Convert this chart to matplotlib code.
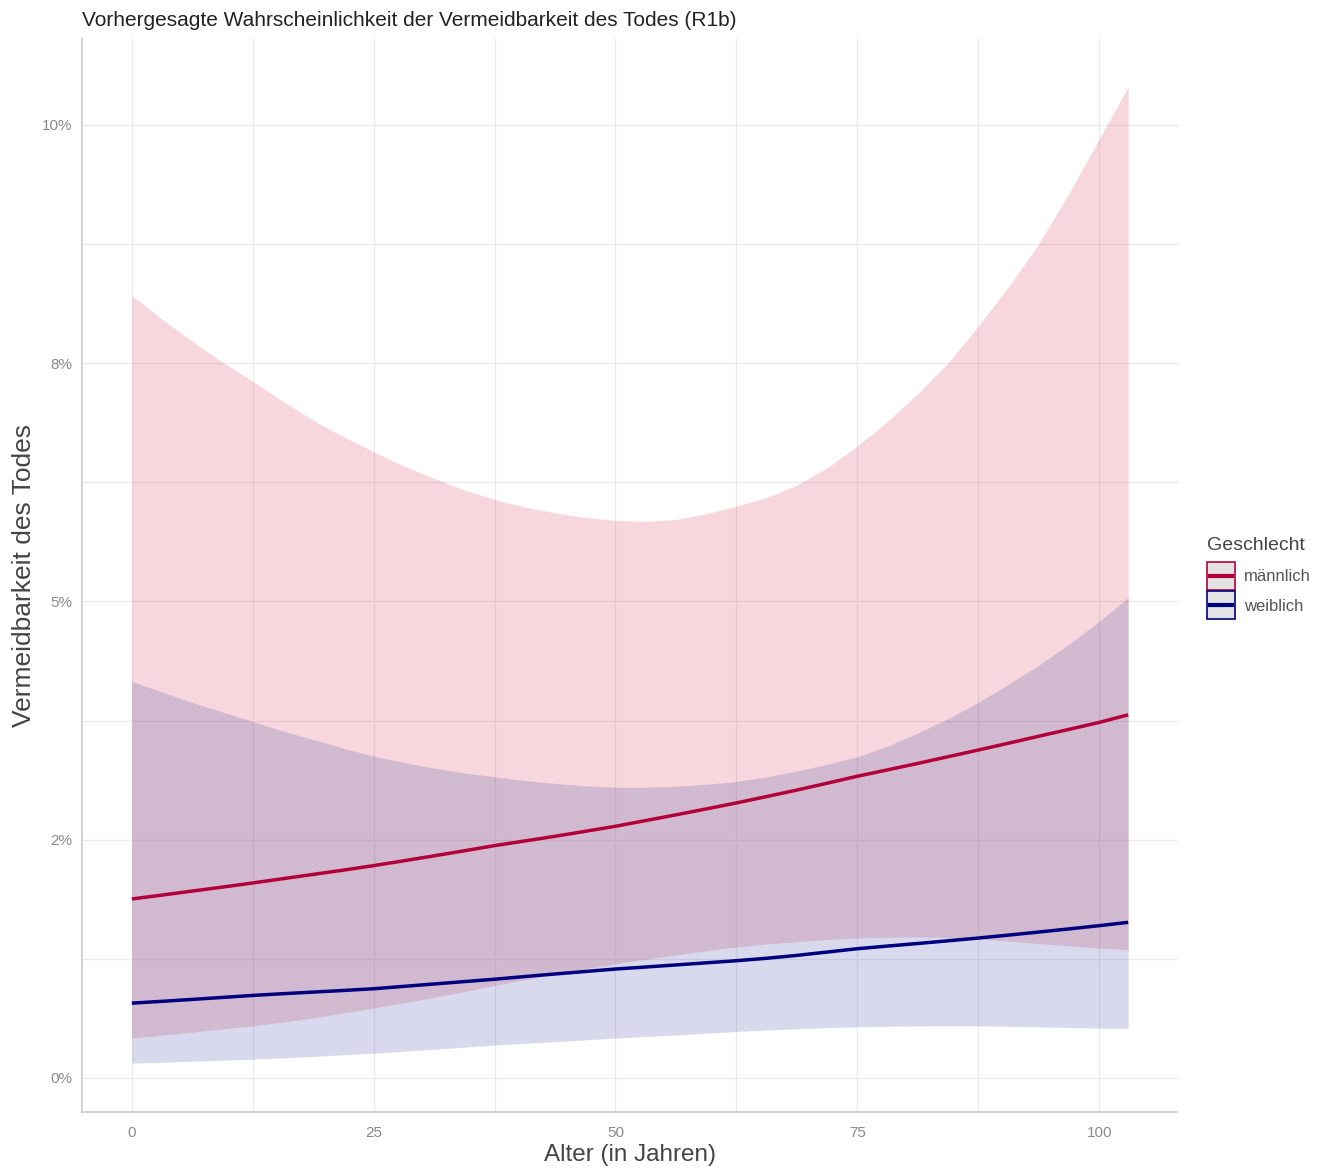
import numpy as np
import matplotlib
matplotlib.use("Agg")
import matplotlib.pyplot as plt
from matplotlib.patches import Rectangle
from matplotlib.lines import Line2D

plt.rcParams['font.family'] = ['Liberation Sans', 'DejaVu Sans']

# values (percent)
alter = [0, 3.125, 6.25, 9.375, 12.5, 15.625, 18.75, 21.875, 25, 28.125,
         31.25, 34.375, 37.5, 40.625, 43.75, 46.875, 50, 53.125, 56.25, 59.375,
         62.5, 65.625, 68.75, 71.875, 75, 78.125, 81.25, 84.375, 87.5, 90.625,
         93.75, 96.875, 100, 103]

m_fit = [1.877, 1.918, 1.96, 2.002, 2.045, 2.09, 2.135, 2.18, 2.227, 2.278,
         2.33, 2.383, 2.437, 2.486, 2.535, 2.587, 2.64, 2.70, 2.76, 2.822,
         2.885, 2.952, 3.02, 3.092, 3.165, 3.232, 3.30, 3.37, 3.44, 3.512,
         3.585, 3.657, 3.73, 3.81]
m_lo = [0.417, 0.448, 0.48, 0.512, 0.546, 0.585, 0.63, 0.68, 0.732, 0.788,
        0.845, 0.905, 0.97, 1.03, 1.09, 1.145, 1.197, 1.245, 1.29, 1.335,
        1.373, 1.405, 1.43, 1.452, 1.467, 1.476, 1.48, 1.473, 1.457, 1.435,
        1.41, 1.385, 1.362, 1.345]
m_hi = [8.21, 7.96, 7.73, 7.51, 7.31, 7.10, 6.90, 6.73, 6.57, 6.42,
        6.29, 6.17, 6.07, 5.99, 5.93, 5.88, 5.85, 5.84, 5.86, 5.92,
        6.00, 6.09, 6.22, 6.40, 6.63, 6.89, 7.18, 7.50, 7.89, 8.30,
        8.75, 9.28, 9.85, 10.40]

w_fit = [0.784, 0.803, 0.823, 0.844, 0.865, 0.883, 0.90, 0.917, 0.935, 0.96,
         0.985, 1.01, 1.035, 1.063, 1.09, 1.116, 1.142, 1.163, 1.185, 1.207,
         1.229, 1.255, 1.285, 1.32, 1.355, 1.383, 1.41, 1.438, 1.467, 1.498,
         1.53, 1.563, 1.597, 1.632]
w_lo = [0.154, 0.164, 0.175, 0.185, 0.196, 0.21, 0.225, 0.242, 0.259, 0.279,
        0.30, 0.322, 0.345, 0.363, 0.38, 0.399, 0.417, 0.434, 0.45, 0.469,
        0.487, 0.502, 0.515, 0.527, 0.536, 0.541, 0.545, 0.546, 0.546, 0.541,
        0.535, 0.528, 0.522, 0.522]
w_hi = [4.16, 4.05, 3.94, 3.84, 3.74, 3.64, 3.55, 3.46, 3.375, 3.31,
        3.25, 3.20, 3.16, 3.12, 3.09, 3.065, 3.05, 3.05, 3.06, 3.08,
        3.11, 3.16, 3.22, 3.29, 3.37, 3.48, 3.62, 3.77, 3.94, 4.13,
        4.33, 4.55, 4.79, 5.04]

gruppen = ["männlich", "weiblich"]
line_cols = ["#b3003a", "#00007f"]
fill_cols = ["#d73755", "#3c41a0"]

y_ticks = [0, 2.5, 5, 7.5, 10]
y_labels = ["0%", "2%", "5%", "8%", "10%"]
x_ticks = [0, 25, 50, 75, 100]


# ggplot-like legend key: grey box with coloured border and a line inside
class KeyHandler:
    def legend_artist(self, legend, orig_handle, fontsize, handlebox):
        x0, y0 = -handlebox.xdescent, -handlebox.ydescent
        w, h = handlebox.width, handlebox.height
        col = orig_handle.get_color()
        rect = Rectangle((x0, y0), w, h, facecolor='#e3e3e3', edgecolor=col,
                         lw=1.2, transform=handlebox.get_transform())
        ln = Line2D([x0 + 0.1 * w, x0 + 0.9 * w], [y0 + h / 2, y0 + h / 2],
                    color=col, lw=3, transform=handlebox.get_transform())
        handlebox.add_artist(rect)
        handlebox.add_artist(ln)
        return rect


fig = plt.figure(figsize=(13.33, 11.71), dpi=100)
ax = fig.add_axes([0.0615, 0.0504, 0.8222, 0.9171])

ax.fill_between(alter, m_lo, m_hi, color=fill_cols[0], alpha=0.2, lw=0)
ax.fill_between(alter, w_lo, w_hi, color=fill_cols[1], alpha=0.2, lw=0)
ax.plot(alter, m_fit, color=line_cols[0], lw=2.5, solid_capstyle='butt')
ax.plot(alter, w_fit, color=line_cols[1], lw=2.5, solid_capstyle='butt')

xr = alter[-1] - alter[0]
ax.set_xlim(alter[0] - 0.05 * xr, alter[-1] + 0.05 * xr)
ymin, ymax = min(w_lo), max(m_hi)
yr = ymax - ymin
ax.set_ylim(ymin - 0.05 * yr, ymax + 0.05 * yr)

ax.set_xticks(x_ticks)
ax.set_xticks([12.5, 37.5, 62.5, 87.5], minor=True)
ax.set_yticks(y_ticks)
ax.set_yticklabels(y_labels)
ax.set_yticks([1.25, 3.75, 6.25, 8.75], minor=True)
ax.grid(True, which='both', color='#ebebeb', lw=0.9)
ax.set_axisbelow(True)
ax.tick_params(which='both', length=0, labelsize=11, labelcolor='#8a8a8a')
ax.tick_params(axis='y', pad=7)
ax.tick_params(axis='x', pad=10)

for s in ['top', 'right']:
    ax.spines[s].set_visible(False)
for s in ['left', 'bottom']:
    ax.spines[s].set_color('#c8c8c8')
    ax.spines[s].set_linewidth(1.1)

ax.set_xlabel("Alter (in Jahren)", fontsize=17.5, color='#444444', labelpad=3)
ax.set_ylabel("Vermeidbarkeit des Todes", fontsize=19, color='#444444', labelpad=4)
ax.set_title("Vorhergesagte Wahrscheinlichkeit der Vermeidbarkeit des Todes (R1b)",
             loc='left', fontsize=15, color='#222222', pad=9)

handles = [Line2D([], [], color=c) for c in line_cols]
leg = fig.legend(handles, gruppen, title="Geschlecht", loc='upper left',
                 bbox_to_anchor=(0.9003, 0.547), frameon=False,
                 handler_map={Line2D: KeyHandler()},
                 fontsize=12, title_fontsize=14, handlelength=1.7,
                 handleheight=2.2, handletextpad=0.55, labelspacing=0.1,
                 borderaxespad=0)
leg._legend_box.align = "left"
leg._legend_box.sep = 5.5  # extra gap between title and keys
for t in leg.get_texts():
    t.set_color('#555555')
leg.get_title().set_color('#444444')

fig.savefig("out.png", dpi=100)
